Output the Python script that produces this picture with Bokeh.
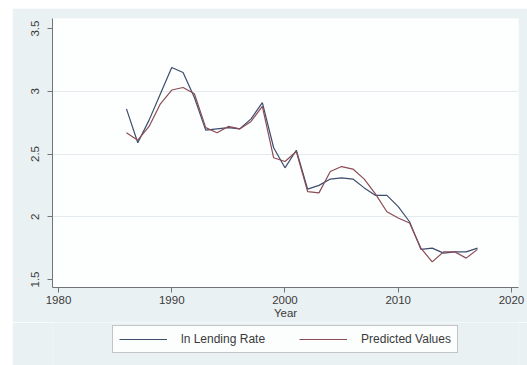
from bokeh.plotting import figure
from bokeh.embed import file_html
from bokeh.resources import INLINE
from bokeh.layouts import column
from bokeh.models import Legend, LegendItem, FixedTicker

years = list(range(1986, 2018))
ln_lending_rate = [2.86, 2.59, 2.77, 2.98, 3.19, 3.15, 2.95, 2.69, 2.70, 2.71,
                   2.70, 2.78, 2.91, 2.55, 2.39, 2.53, 2.22, 2.25, 2.30, 2.31,
                   2.30, 2.23, 2.17, 2.17, 2.08, 1.96, 1.74, 1.75, 1.71, 1.72,
                   1.72, 1.75]
predicted = [2.67, 2.61, 2.72, 2.90, 3.01, 3.03, 2.98, 2.71, 2.67, 2.72,
             2.70, 2.76, 2.88, 2.47, 2.44, 2.52, 2.20, 2.19, 2.36, 2.40,
             2.38, 2.30, 2.18, 2.04, 1.99, 1.95, 1.75, 1.64, 1.72, 1.72,
             1.67, 1.74]
series_names = ["ln Lending Rate", "Predicted Values"]
x_ticks = [1980, 1990, 2000, 2010, 2020]
y_ticks = [1.5, 2, 2.5, 3, 3.5]
y_grid = [2, 2.5, 3]

FONT = "Liberation Sans"
BG = "#eaf1f3"
C1 = "#3d4d6c"
C2 = "#8c4c56"

p = figure(width=515, height=314, output_backend="svg", toolbar_location=None,
           x_range=(1979.47, 2020.62), y_range=(1.436, 3.58),
           min_border_left=40, min_border_right=9, min_border_top=10,
           min_border_bottom=35)
p.background_fill_color = "#fdfefe"
p.border_fill_color = BG
p.outline_line_color = None

p.xaxis.ticker = FixedTicker(ticks=x_ticks)
p.yaxis.ticker = FixedTicker(ticks=y_ticks)
p.xgrid.grid_line_color = None
p.ygrid.ticker = FixedTicker(ticks=y_grid)
p.ygrid.grid_line_color = "#e3ebee"
p.ygrid.grid_line_width = 1

for ax in (p.xaxis[0], p.yaxis[0]):
    ax.axis_line_color = "#6e7478"
    ax.major_tick_line_color = "#6e7478"
    ax.major_tick_out = 5
    ax.major_tick_in = 0
    ax.minor_tick_line_color = None
    ax.major_label_text_font = FONT
    ax.major_label_text_font_size = "11.5px"
    ax.major_label_text_color = "#3a3a3a"
    ax.axis_label_text_font = FONT
    ax.axis_label_text_font_size = "11.5px"
    ax.axis_label_text_font_style = "normal"
    ax.axis_label_text_color = "#3a3a3a"

p.yaxis.major_label_orientation = "vertical"
p.yaxis.major_label_standoff = 8
p.xaxis.major_label_standoff = 3
p.xaxis.axis_label = "Year"
p.xaxis.axis_label_standoff = 0

p.line(years, ln_lending_rate, line_color=C1, line_width=1.2)
p.line(years, predicted, line_color=C2, line_width=1.2)

# legend strip below the plot (series drawn out of view, only for legend glyphs)
p2 = figure(width=515, height=43, output_backend="svg", toolbar_location=None,
            x_range=(0, 1), y_range=(0, 1), min_border=0)
p2.axis.visible = False
p2.grid.grid_line_color = None
p2.background_fill_color = BG
p2.border_fill_color = BG
p2.outline_line_color = None
l1 = p2.line(years, ln_lending_rate, line_color=C1, line_width=1.2)
l2 = p2.line(years, predicted, line_color=C2, line_width=1.2)

legend = Legend(items=[LegendItem(label=series_names[0], renderers=[l1]),
                       LegendItem(label=series_names[1], renderers=[l2])],
                orientation="horizontal", location=(60, 12),
                label_text_font=FONT, label_text_font_size="12px",
                label_text_color="#3a3a3a",
                background_fill_color="#fdfefe", border_line_color="#8a8a8a",
                glyph_width=48, glyph_height=12, spacing=34, padding=6,
                margin=0, label_standoff=14, label_height=12)
p2.add_layout(legend, "center")

layout = column(p, p2, spacing=0)
layout.margin = (8, 0, 0, 12)
open("out.html", "w").write(file_html(layout, INLINE))
